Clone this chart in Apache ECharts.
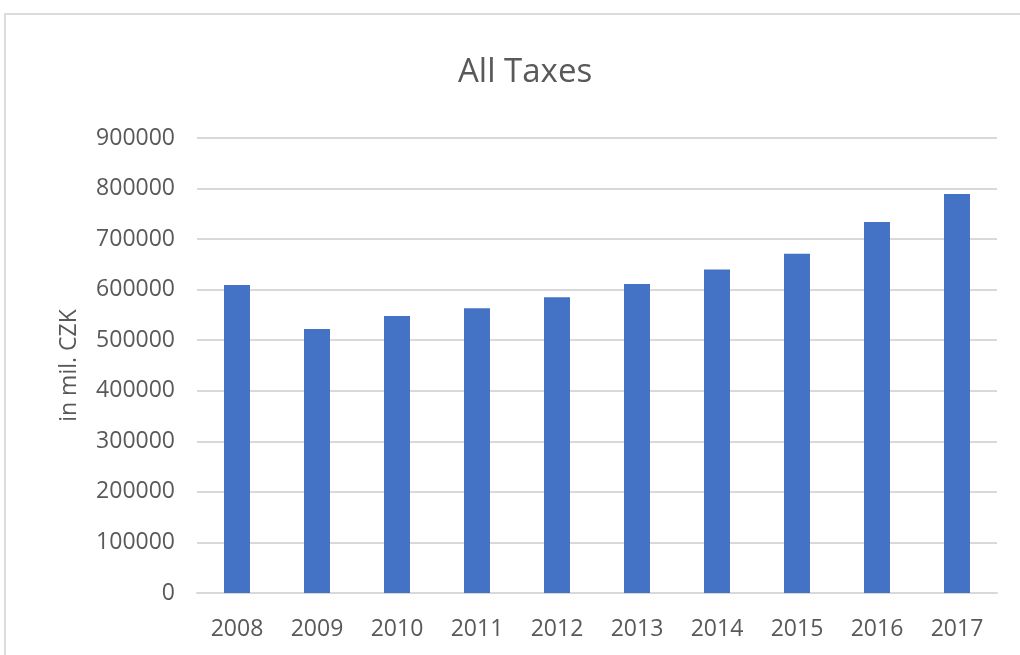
<!DOCTYPE html>
<html>
<head>
<meta charset="utf-8">
<script src="https://cdn.jsdelivr.net/npm/echarts@6/dist/echarts.min.js"></script>
<style>
  html, body { margin: 0; padding: 0; background: #fff; overflow: hidden; }
  #frame { position: absolute; left: 4px; top: 13px; width: 1200px; height: 1000px; border: 2px solid #dcdcdc; }
  #chart { position: absolute; left: 0; top: 0; width: 1020px; height: 655px; }
</style>
</head>
<body>
<div id="frame"></div>
<div id="chart"></div>
<script>
  // years on the x axis
  var years = ['2008', '2009', '2010', '2011', '2012', '2013', '2014', '2015', '2016', '2017'];
  // all taxes, in mil. CZK
  var taxes = [609000, 522000, 548000, 563000, 585000, 611000, 640000, 671000, 734000, 789000];

  var textColor = '#595959';
  var font = 'Open Sans';

  var myChart = echarts.init(document.getElementById('chart'));

  myChart.setOption({
    animation: false,
    title: {
      text: 'All Taxes',
      left: 453,
      top: 51,
      textStyle: { fontFamily: font, fontSize: 33, fontWeight: 'normal', color: textColor }
    },
    grid: { left: 197, right: 23, top: 138, bottom: 62 },
    xAxis: {
      type: 'category',
      data: years,
      axisTick: { show: false },
      axisLine: { lineStyle: { color: '#d9d9d9', width: 2 } },
      axisLabel: { fontFamily: font, fontSize: 23, color: textColor, margin: 25 }
    },
    yAxis: {
      type: 'value',
      min: 0,
      max: 900000,
      interval: 100000,
      name: 'in mil. CZK',
      nameLocation: 'middle',
      nameGap: 116,
      nameTextStyle: { fontFamily: font, fontSize: 23, color: textColor },
      axisLine: { show: false },
      axisTick: { show: false },
      splitLine: { lineStyle: { color: '#d9d9d9', width: 2 } },
      axisLabel: {
        fontFamily: font, fontSize: 23, color: textColor, margin: 22,
        formatter: function (v) { return String(v); }
      }
    },
    series: [{
      type: 'bar',
      data: taxes,
      barWidth: 26,
      itemStyle: { color: '#4472C4' }
    }]
  });
</script>
</body>
</html>
